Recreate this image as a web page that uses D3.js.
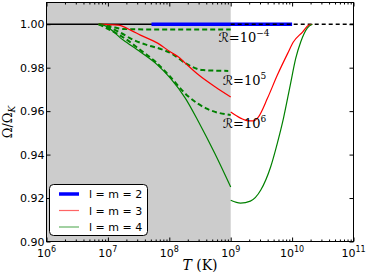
<!DOCTYPE html>
<html>
<head>
<meta charset="utf-8">
<script src="https://cdn.jsdelivr.net/npm/d3@7"></script>
<style>
body { margin: 0; background: #fff; }
text { font-family: "DejaVu Sans", sans-serif; }
.serif { font-family: "DejaVu Serif", "DejaVu Sans", serif; }
</style>
</head>
<body>
<script>
// values: log10(T/K) and Omega/Omega_K
var red_in_logT   = [6.85, 6.96, 7.17, 7.37, 7.53, 7.81, 8.02, 8.15, 8.26, 8.48, 8.75, 9.00];
var red_in_val    = [1.000, 0.9999, 0.9996, 0.9973, 0.9950, 0.9913, 0.9872, 0.9849, 0.9821, 0.9766, 0.9711, 0.9665];
var red_out_logT  = [9.00, 9.16, 9.29, 9.37, 9.45, 9.60, 9.76, 9.93, 10.02, 10.17, 10.27, 10.33];
var red_out_val   = [0.9596, 0.9568, 0.9555, 0.9555, 0.9573, 0.9660, 0.9766, 0.9867, 0.9918, 0.9964, 0.9996, 1.000];
var green_in_logT = [6.85, 6.93, 7.25, 7.53, 7.81, 8.02, 8.26, 8.48, 8.74, 9.00];
var green_in_val  = [1.000, 0.9996, 0.9927, 0.9872, 0.9812, 0.9751, 0.9660, 0.9549, 0.9406, 0.9251];
var green_out_logT = [9.00, 9.16, 9.32, 9.49, 9.65, 9.76, 9.86, 9.97, 10.06, 10.14, 10.25, 10.33];
var green_out_val  = [0.9190, 0.9177, 0.9186, 0.9237, 0.9343, 0.9453, 0.9568, 0.9720, 0.9844, 0.9918, 0.9983, 1.000];
var rA_logT = [6.85, 6.96, 7.09, 7.25, 7.69, 9.00];   // R = 1e-4
var rA_val  = [1.000, 0.9996, 0.9987, 0.9978, 0.9976, 0.9976];
var rB_logT = [6.85, 7.04, 7.21, 7.42, 7.64, 7.86, 8.05, 8.26, 8.55, 8.96];   // R = 1e5
var rB_val  = [1.000, 0.9983, 0.9960, 0.9927, 0.9904, 0.9886, 0.9863, 0.9821, 0.9789, 0.9785];
var rC_logT = [6.85, 7.04, 7.29, 7.53, 7.78, 7.99, 8.30, 8.62, 9.00];   // R = 1e6
var rC_val  = [1.000, 0.9973, 0.9932, 0.9881, 0.9826, 0.9766, 0.9670, 0.9610, 0.9582];
var blue_logT = [7.71, 10.0];
var blue_val  = [1.0, 1.0];

var x_major = [6, 7, 8, 9, 10, 11];
var y_ticks = [0.90, 0.92, 0.94, 0.96, 0.98, 1.00];
var legend_names = ['l = m = 2', 'l = m = 3', 'l = m = 4'];
var r_labels = [['\u211B=10', '\u22124', 8.80, 0.9918], ['\u211B=10', '5', 8.87, 0.9720], ['\u211B=10', '6', 8.87, 0.9522]];

var width = 366, height = 272;
var p_left = 46.5, p_right = 353.5, p_top = 2.5, p_bottom = 241.5;

var svg = d3.select('body').append('svg').attr('width', width).attr('height', height);

var x_scale = d3.scaleLog().domain([1e6, 1e11]).range([p_left, p_right]);
var y_scale = d3.scaleLinear().domain([0.90, 1.01]).range([p_bottom, p_top]);

function pts(lt, v) {
    return lt.map(function(d, i) { return [Math.pow(10, d), v[i]]; });
}
var line = d3.line().x(d => x_scale(d[0])).y(d => y_scale(d[1])).curve(d3.curveMonotoneX);

// grey band up to 1e9
svg.append('rect').attr('x', x_scale(1e6)).attr('y', p_top)
    .attr('width', x_scale(1e9) - x_scale(1e6)).attr('height', p_bottom - p_top).attr('fill', '#cccccc');

var plot = svg.append('g');
function draw(data, color, w, dash) {
    var p = plot.append('path').datum(data).attr('d', line)
        .attr('fill', 'none').attr('stroke', color).attr('stroke-width', w);
    if (dash) p.attr('stroke-dasharray', dash);
}

draw(pts([6, 9], [1, 1]), '#000', 1.5);
draw(pts(blue_logT, blue_val), '#0000ff', 3.5);
draw(pts([9, 11], [1, 1]), '#000', 1.5, '4,3');
draw(pts(rA_logT, rA_val), '#008000', 2, '5,3');
draw(pts(rB_logT, rB_val), '#008000', 2, '5,3');
draw(pts(rC_logT, rC_val), '#008000', 2, '5,3');
draw(pts(red_in_logT, red_in_val), '#ff0000', 1.2);
draw(pts(red_out_logT, red_out_val), '#ff0000', 1.2);
draw(pts(green_in_logT, green_in_val), '#008000', 1.2);
draw(pts(green_out_logT, green_out_val), '#008000', 1.2);

// R labels
r_labels.forEach(function(l) {
    var t = svg.append('text').attr('class', 'serif').attr('font-size', 13)
        .attr('x', x_scale(Math.pow(10, l[2]))).attr('y', y_scale(l[3]));
    t.append('tspan').text(l[0]);
    t.append('tspan').attr('dy', -6).attr('font-size', 9).text(l[1]);
});

// axes (ticks inside)
var minor = [];
for (var d = 6; d < 11; d++)
    for (var k = 2; k < 10; k++) minor.push(k * Math.pow(10, d));
var majorT = x_major.map(e => Math.pow(10, e));

function strip(g) { g.select('.domain').remove(); g.selectAll('line').attr('stroke', '#000'); }

svg.append('g').attr('transform', 'translate(0,' + p_bottom + ')')
    .call(d3.axisBottom(x_scale).tickValues(majorT).tickSize(-4).tickFormat('')).call(strip);
svg.append('g').attr('transform', 'translate(0,' + p_bottom + ')')
    .call(d3.axisBottom(x_scale).tickValues(minor).tickSize(-2).tickFormat('')).call(strip);
svg.append('g').attr('transform', 'translate(0,' + p_top + ')')
    .call(d3.axisTop(x_scale).tickValues(majorT).tickSize(-4).tickFormat('')).call(strip);
svg.append('g').attr('transform', 'translate(0,' + p_top + ')')
    .call(d3.axisTop(x_scale).tickValues(minor).tickSize(-2).tickFormat('')).call(strip);

svg.append('g').attr('transform', 'translate(' + p_left + ',0)')
    .call(d3.axisLeft(y_scale).tickValues(y_ticks).tickSize(-4).tickPadding(2).tickFormat(d3.format('.2f')))
    .call(strip)
    .selectAll('text').attr('font-size', 11).attr('fill', '#000').attr('font-family', 'DejaVu Sans');
svg.append('g').attr('transform', 'translate(' + p_right + ',0)')
    .call(d3.axisRight(y_scale).tickValues(y_ticks).tickSize(-4).tickFormat('')).call(strip);

x_major.forEach(function(e) {
    var t = svg.append('text').attr('x', x_scale(Math.pow(10, e))).attr('y', 257)
        .attr('text-anchor', 'middle').attr('font-size', 11);
    t.append('tspan').text('10');
    t.append('tspan').attr('dy', -5).attr('font-size', 8).text(e);
});

svg.append('rect').attr('x', p_left).attr('y', p_top).attr('width', p_right - p_left).attr('height', p_bottom - p_top)
    .attr('fill', 'none').attr('stroke', '#000').attr('stroke-width', 1);

// axis titles
var xt = svg.append('text').attr('class', 'serif').attr('x', (p_left + p_right) / 2).attr('y', 270)
    .attr('text-anchor', 'middle').attr('font-size', 14);
xt.append('tspan').attr('font-style', 'italic').text('T');
xt.append('tspan').text(' (K)');

var yt = svg.append('text').attr('class', 'serif').attr('transform', 'translate(11.5,' + ((p_top + p_bottom) / 2) + ') rotate(-90)')
    .attr('text-anchor', 'middle').attr('font-size', 13);
yt.append('tspan').text('\u03A9/\u03A9');
yt.append('tspan').attr('font-style', 'italic').attr('font-size', 9).attr('dy', 3).text('K');

// legend
var leg = svg.append('g');
leg.append('rect').attr('x', 49.5).attr('y', 184.5).attr('width', 98).attr('height', 51).attr('rx', 4)
    .attr('fill', '#fff').attr('stroke', '#000').attr('stroke-width', 1);
var leg_colors = ['#0000ff', '#ff0000', '#008000'];
var leg_widths = [3.5, 1.2, 1.2];
legend_names.forEach(function(n, i) {
    var yy = 194 + i * 16.5;
    leg.append('line').attr('x1', 59).attr('x2', 79).attr('y1', yy).attr('y2', yy)
        .attr('stroke', leg_colors[i]).attr('stroke-width', leg_widths[i]).attr('opacity', i ? 0.6 : 1);
    leg.append('text').attr('x', 89).attr('y', yy + 4).attr('font-size', 11).text(n);
});
</script>
</body>
</html>
